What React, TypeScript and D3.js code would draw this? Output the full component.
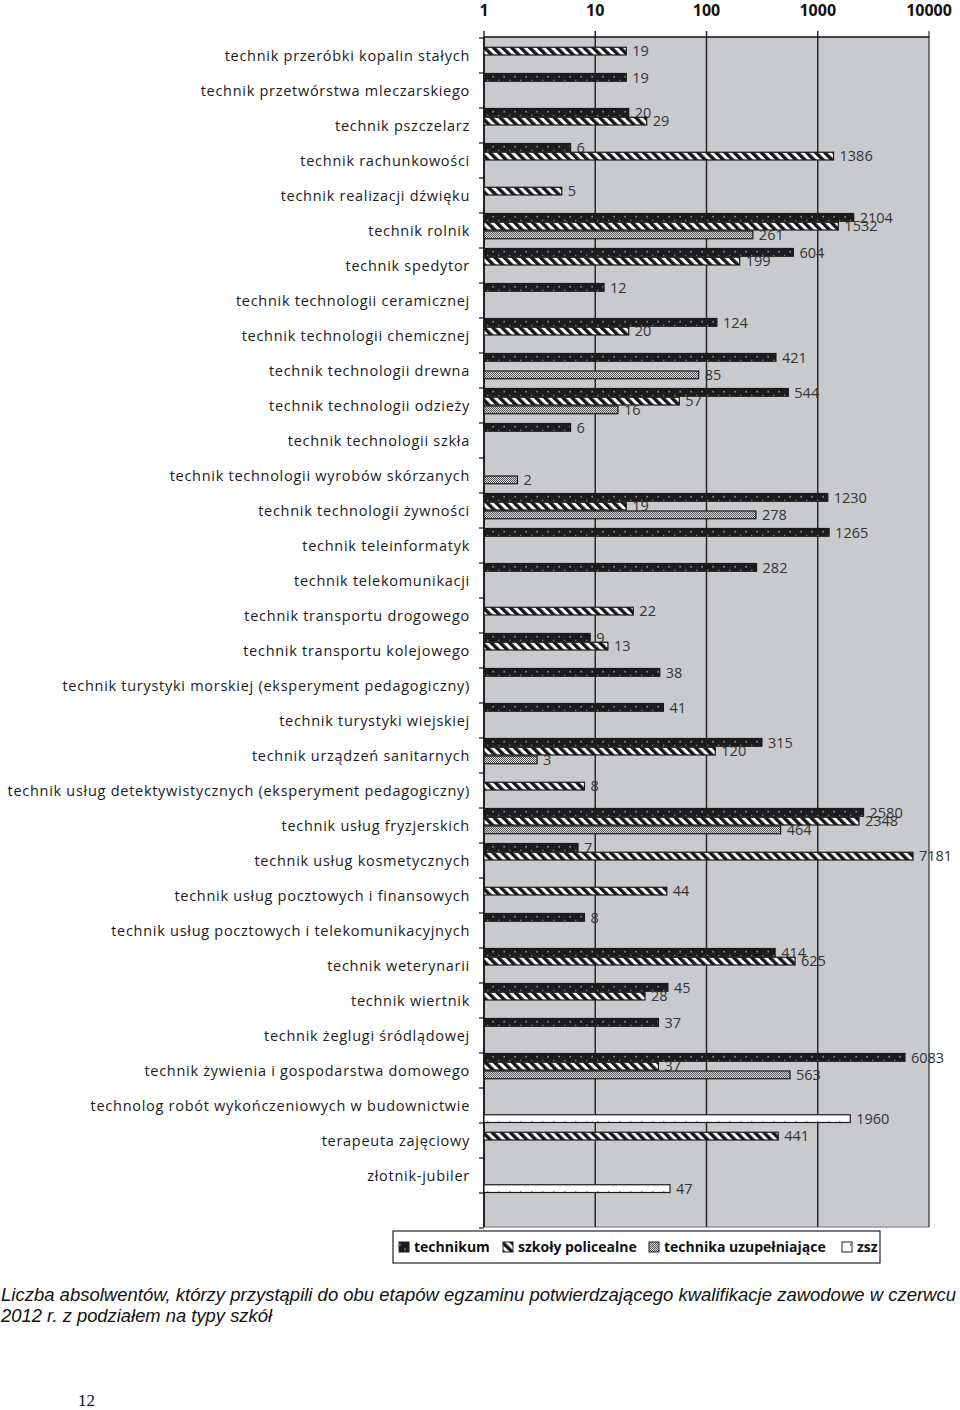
import React from 'react';
import * as d3 from 'd3';

const categories = [
  'technik przeróbki kopalin stałych',
  'technik przetwórstwa mleczarskiego',
  'technik pszczelarz',
  'technik rachunkowości',
  'technik realizacji dźwięku',
  'technik rolnik',
  'technik spedytor',
  'technik technologii ceramicznej',
  'technik technologii chemicznej',
  'technik technologii drewna',
  'technik technologii odzieży',
  'technik technologii szkła',
  'technik technologii wyrobów skórzanych',
  'technik technologii żywności',
  'technik teleinformatyk',
  'technik telekomunikacji',
  'technik transportu drogowego',
  'technik transportu kolejowego',
  'technik turystyki morskiej (eksperyment pedagogiczny)',
  'technik turystyki wiejskiej',
  'technik urządzeń sanitarnych',
  'technik usług detektywistycznych (eksperyment pedagogiczny)',
  'technik usług fryzjerskich',
  'technik usług kosmetycznych',
  'technik usług pocztowych i finansowych',
  'technik usług pocztowych i telekomunikacyjnych',
  'technik weterynarii',
  'technik wiertnik',
  'technik żeglugi śródlądowej',
  'technik żywienia i gospodarstwa domowego',
  'technolog robót wykończeniowych w budownictwie',
  'terapeuta zajęciowy',
  'złotnik-jubiler',
];

const seriesNames = ['technikum', 'szkoły policealne', 'technika uzupełniające', 'zsz'];

const technikum = [null, 19, 20, 6, null, 2104, 604, 12, 124, 421, 544, 6, null, 1230, 1265, 282, null, 9, 38, 41, 315, null, 2580, 7, null, 8, 414, 45, 37, 6083, null, null, null];
const policealne = [19, null, 29, 1386, 5, 1532, 199, null, 20, null, 57, null, null, 19, null, null, 22, 13, null, null, 120, 8, 2348, 7181, 44, null, 625, 28, null, 37, null, 441, null];
const uzupelniajace = [null, null, null, null, null, 261, null, null, null, 85, 16, null, 2, 278, null, null, null, null, null, null, 3, null, 464, null, null, null, null, null, null, 563, null, null, null];
const zsz = [null, null, null, null, null, null, null, null, null, null, null, null, null, null, null, null, null, null, null, null, null, null, null, null, null, null, null, null, null, null, 1960, null, 47];

const axisTicks = [1, 10, 100, 1000, 10000];

const allSeries = [technikum, policealne, uzupelniajace, zsz];
const patternIds = ['pTech', 'pPol', 'pUzu', 'pZsz'];

export default function App() {
  const left = 484;
  const right = 929;
  const top = 37;
  const bandH = 35;
  const plotBottom = top + bandH * (categories.length + 1);

  const x = d3.scaleLog().domain([1, 10000]).range([left, right]);
  const y = d3
    .scaleBand<string>()
    .domain(categories)
    .range([top + 1, top + 1 + bandH * categories.length])
    .paddingInner(0)
    .paddingOuter(0);
  const sub = d3.scaleBand<number>().domain([0, 1, 2, 3]).range([0, y.bandwidth()]).padding(0);

  const bars: any[] = [];
  allSeries.forEach((vals, s) => {
    vals.forEach((v, i) => {
      if (v == null) return;
      bars.push({ s, i, v });
    });
  });

  const legendItems = [
    { label: seriesNames[0], x: 399 },
    { label: seriesNames[1], x: 503 },
    { label: seriesNames[2], x: 649 },
    { label: seriesNames[3], x: 842 },
  ];

  return (
    <svg
      width={960}
      height={1410}
      style={{ position: 'absolute', left: 0, top: 0, background: '#fff' }}
    >
      <defs>
        <pattern id="pTech" patternUnits="userSpaceOnUse" width={11} height={8.75}>
          <rect width={11} height={8.75} fill="#1c1c1c" />
          <rect x={3} y={1.5} width={1.4} height={1.4} fill="#fff" />
          <rect x={8.5} y={6} width={1.3} height={1.3} fill="#d0d0d0" />
        </pattern>
        <pattern
          id="pPol"
          patternUnits="userSpaceOnUse"
          width={6.4}
          height={6.4}
          patternTransform="rotate(-45)"
        >
          <rect width={6.4} height={6.4} fill="#fff" />
          <rect width={3.4} height={6.4} fill="#151515" />
        </pattern>
        <pattern id="pUzu" patternUnits="userSpaceOnUse" width={4} height={4}>
          <rect width={4} height={4} fill="#dcdcdc" />
          <rect x={0} y={0} width={1} height={1} fill="#555" />
          <rect x={2} y={0} width={1} height={1} fill="#555" />
          <rect x={1} y={1} width={1} height={1} fill="#555" />
          <rect x={3} y={1} width={1} height={1} fill="#555" />
          <rect x={0} y={2} width={1} height={1} fill="#555" />
          <rect x={2} y={2} width={1} height={1} fill="#555" />
          <rect x={1} y={3} width={1} height={1} fill="#555" />
          <rect x={3} y={3} width={1} height={1} fill="#555" />
        </pattern>
        <pattern id="pZsz" patternUnits="userSpaceOnUse" width={11} height={8.75}>
          <rect width={11} height={8.75} fill="#fff" />
          <rect x={3} y={1.5} width={1.3} height={1.3} fill="#222" />
        </pattern>
      </defs>

      {/* plot area */}
      <rect x={left} y={top} width={right - left} height={plotBottom - top} fill="#c9cacd" />
      <line x1={left} x2={right} y1={plotBottom} y2={plotBottom} stroke="#999" strokeWidth={1.5} />

      {axisTicks.map((t) => (
        <g key={t}>
          <line
            x1={x(t)}
            x2={x(t)}
            y1={top - 6}
            y2={plotBottom}
            stroke={t === 10000 ? '#555' : '#2a2a2a'}
            strokeWidth={1.5}
          />
          <text
            x={x(t)}
            y={16}
            textAnchor="middle"
            fontFamily="'Open Sans', sans-serif"
            fontWeight="bold"
            fontSize={16}
            fill="#111"
          >
            {t}
          </text>
        </g>
      ))}
      <line x1={left} x2={right} y1={top} y2={top} stroke="#111" strokeWidth={1.5} />

      {/* left axis */}
      <line x1={left} x2={left} y1={top} y2={plotBottom} stroke="#111" strokeWidth={1.5} />
      {d3.range(categories.length + 2).map((k) => (
        <line
          key={k}
          x1={left - 5}
          x2={left}
          y1={top + 1 + k * bandH}
          y2={top + 1 + k * bandH}
          stroke="#111"
          strokeWidth={1.2}
        />
      ))}

      {categories.map((c) => (
        <text
          key={c}
          x={470}
          y={(y(c) as number) + y.bandwidth() / 2}
          dy="0.35em"
          textAnchor="end"
          fontFamily="'Open Sans', sans-serif"
          fontSize={14.5}
          letterSpacing={0.72}
          fill="#1a1a1a"
        >
          {c}
        </text>
      ))}

      {bars.map((b) => {
        const by = (y(categories[b.i]) as number) + (sub(b.s) as number);
        const w = x(b.v) - left;
        return (
          <g key={`${b.s}-${b.i}`}>
            <rect
              x={left}
              y={by + 0.5}
              width={w}
              height={sub.bandwidth() - 1}
              fill={`url(#${patternIds[b.s]})`}
              stroke="#1a1a1a"
              strokeWidth={1.2}
            />
            <text
              x={x(b.v) + 6}
              y={by + sub.bandwidth() / 2}
              dy="0.36em"
              fontFamily="'Open Sans', sans-serif"
              fontSize={14.5}
              fill="#333"
            >
              {b.v}
            </text>
          </g>
        );
      })}

      {/* legend */}
      <rect x={393} y={1231} width={487} height={32} fill="#fff" stroke="#222" strokeWidth={1.2} />
      {legendItems.map((it, k) => (
        <g key={it.label}>
          <rect
            x={it.x}
            y={1242}
            width={10}
            height={10}
            fill={`url(#${patternIds[k]})`}
            stroke="#222"
            strokeWidth={1}
          />
          <text
            x={it.x + 15}
            y={1252}
            fontFamily="'Open Sans', sans-serif"
            fontWeight="bold"
            fontSize={14}
            fill="#111"
          >
            {it.label}
          </text>
        </g>
      ))}

      {/* caption */}
      <text
        x={1}
        y={1301}
        fontFamily="'Liberation Sans', Arial, sans-serif"
        fontStyle="italic"
        fontSize={18}
        textLength={955}
        lengthAdjust="spacingAndGlyphs"
        fill="#111"
      >
        Liczba absolwentów, którzy przystąpili do obu etapów egzaminu potwierdzającego kwalifikacje zawodowe w czerwcu
      </text>
      <text
        x={1}
        y={1322}
        fontFamily="'Liberation Sans', Arial, sans-serif"
        fontStyle="italic"
        fontSize={18}
        textLength={271}
        lengthAdjust="spacingAndGlyphs"
        fill="#111"
      >
        2012 r. z podziałem na typy szkół
      </text>
      <text x={78} y={1406} fontFamily="'Liberation Serif', serif" fontSize={17} fill="#111">
        12
      </text>
    </svg>
  );
}
